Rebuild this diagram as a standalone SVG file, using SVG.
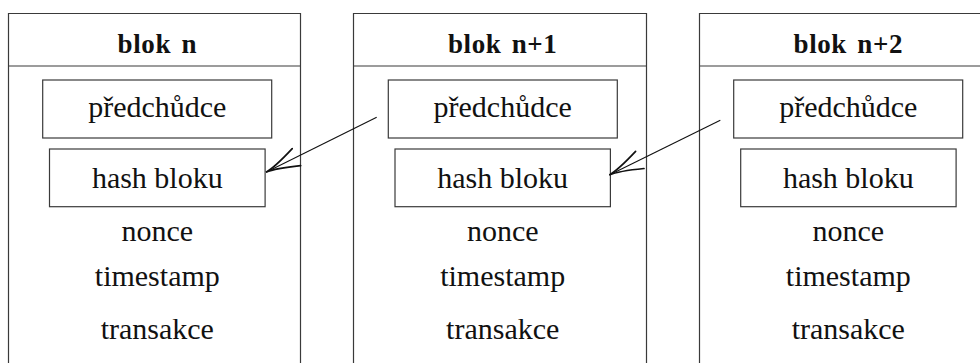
<svg xmlns="http://www.w3.org/2000/svg" width="980" height="363" viewBox="0 0 980 363">
  <style>
    .frame { fill: none; stroke: #3a3a3a; stroke-width: 1.2; }
    .box { fill: #ffffff; stroke: #3a3a3a; stroke-width: 1.2; }
    .title { font-weight: bold; font-size: 27px; word-spacing: 3px; letter-spacing: 0.6px; }
    .field { font-size: 30px; }
    .link { fill: none; stroke: #111; stroke-width: 1.1; }
    .head { fill: none; stroke: #111; stroke-width: 1.7; stroke-linecap: round; }
  </style>
  <defs>
    <marker id="to" markerUnits="userSpaceOnUse" markerWidth="40" markerHeight="24" refX="0" refY="0" orient="auto" overflow="visible" viewBox="-40 -12 40 24">
      <path class="head" d="M -34,-9.5 Q -10,-0.5 0,0 Q -10,0.5 -34,9.5"/>
    </marker>
  </defs>

  <rect width="980" height="363" fill="#ffffff"/>

  <!-- block n -->
  <g id="block-n" font-family="Liberation Serif, DejaVu Serif, serif" text-anchor="middle" fill="#111">
    <path class="frame" d="M 8.5,370 V 13.5 H 300.5 V 370 M 8.5,66 H 300.5"/>
    <text class="title" x="157.3" y="53.3">blok n</text>
    <rect class="box" x="42.7" y="80" width="229" height="58"/>
    <text class="field" x="157.3" y="116.7">předchůdce</text>
    <rect class="box" x="49.5" y="149" width="215.6" height="57.7"/>
    <text class="field" x="157.3" y="188.3">hash bloku</text>
    <text class="field" x="157.3" y="240.7">nonce</text>
    <text class="field" x="157.3" y="286">timestamp</text>
    <text class="field" x="157.3" y="339.3">transakce</text>
  </g>

  <!-- block n+1 -->
  <g id="block-n1" font-family="Liberation Serif, DejaVu Serif, serif" text-anchor="middle" fill="#111">
    <path class="frame" d="M 353.5,370 V 13.5 H 646.5 V 370 M 353.5,66 H 646.5"/>
    <text class="title" x="502.7" y="53.3">blok n+1</text>
    <rect class="box" x="388.3" y="80" width="229" height="58"/>
    <text class="field" x="502.7" y="116.7">předchůdce</text>
    <rect class="box" x="395" y="149" width="215.4" height="57.7"/>
    <text class="field" x="502.7" y="188.3">hash bloku</text>
    <text class="field" x="502.7" y="240.7">nonce</text>
    <text class="field" x="502.7" y="286">timestamp</text>
    <text class="field" x="502.7" y="339.3">transakce</text>
  </g>

  <!-- block n+2 -->
  <g id="block-n2" font-family="Liberation Serif, DejaVu Serif, serif" text-anchor="middle" fill="#111">
    <path class="frame" d="M 699.5,370 V 13.5 H 992.5 V 370 M 699.5,66 H 992.5"/>
    <text class="title" x="848.3" y="53.3">blok n+2</text>
    <rect class="box" x="733.7" y="80" width="229" height="58"/>
    <text class="field" x="848.3" y="116.7">předchůdce</text>
    <rect class="box" x="740.7" y="149" width="215.4" height="57.7"/>
    <text class="field" x="848.3" y="188.3">hash bloku</text>
    <text class="field" x="848.3" y="240.7">nonce</text>
    <text class="field" x="848.3" y="286">timestamp</text>
    <text class="field" x="848.3" y="339.3">transakce</text>
  </g>

  <!-- predecessor links -->
  <g id="connectors">
    <path class="link" d="M 376.7,117.3 L 266,172.3" marker-end="url(#to)"/>
    <path class="link" d="M 720.3,120.3 L 609.3,175" marker-end="url(#to)"/>
  </g>
</svg>
